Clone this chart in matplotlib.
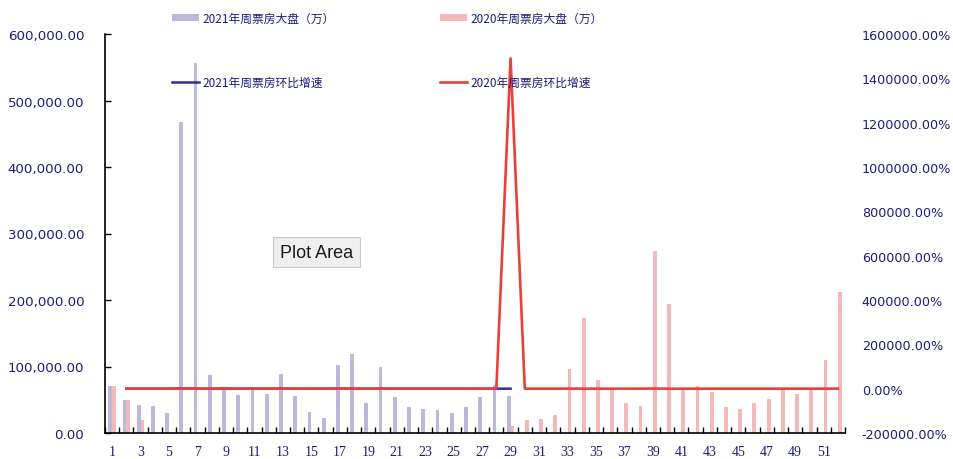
import numpy as np
import matplotlib
matplotlib.use("Agg")
import matplotlib.pyplot as plt
from matplotlib.patches import Patch
from matplotlib.lines import Line2D
from matplotlib.ticker import FuncFormatter, FixedLocator

nan = np.nan
weeks = list(range(1, 53))
tick_weeks = list(range(1, 53, 2))

box_2021 = [70200, 49600, 42100, 40100, 30000, 468000, 556000, 87700, 68700, 57100,
            67200, 58600, 89200, 55600, 31600, 22600, 102300, 118800, 45100, 99800,
            53600, 38600, 36100, 34100, 30100, 38600, 54600, 72200, 55600] + [nan] * 23

box_2020 = [70200, 49600, 19500] + [0] * 25 + [
            10500, 19500, 21600, 26600, 96200, 173000, 80200, 66500, 45100, 40100,
            273700, 194000, 66500, 70200, 61600, 38600, 36100, 45100, 51100, 66200,
            58600, 66200, 109800, 212500]

# week-over-week growth, in percent
growth_2021 = [nan, -29, -15, -5, -25, 1460, 19, -84, -22, -17,
               18, -13, 52, -38, -43, -29, 353, 16, -62, 121,
               -46, -28, -6, -6, -12, 28, 41, 32, -23] + [nan] * 23

growth_2020 = [nan, -29, -61, -100] + [0] * 24 + [
               1490000, 86, 11, 23, 262, 80, -54, -17, -32, -11,
               582, -29, -66, 6, -12, -37, -7, 25, 13, 30,
               -12, 13, 66, 94]

label_b21 = "2021年周票房大盘（万）"
label_b20 = "2020年周票房大盘（万）"
label_g21 = "2021年周票房环比增速"
label_g20 = "2020年周票房环比增速"

navy = "#1E1C7C"
c_b21 = "#BDB8DA"
c_b20 = "#F5B8B8"
c_g21 = "#2E2E8E"
c_g20 = "#E8413C"

plt.rcParams['font.family'] = ['Noto Sans CJK SC', 'DejaVu Sans']

fig = plt.figure(figsize=(9.54, 4.6), dpi=100)
W, H = 954, 460
left, right, top, bottom = 105, 845, 35, 434
ax = fig.add_axes([left / W, 1 - bottom / H, (right - left) / W, (bottom - top) / H])
ax2 = ax.twinx()

x = np.array(weeks, dtype=float)
bw = 0.27
ax.bar(x - bw / 2, box_2021, width=bw, color=c_b21, linewidth=0)
ax.bar(x + bw / 2, box_2020, width=bw, color=c_b20, linewidth=0)

ax2.plot(x, growth_2021, color=c_g21, lw=1.8, solid_joinstyle='round')
ax2.plot(x, growth_2020, color=c_g20, lw=1.9, solid_joinstyle='round')

ax.set_xlim(0.5, 52.5)
ax.set_ylim(0, 600000)
ax2.set_ylim(-200000, 1600000)

ax.set_yticks(np.arange(0, 600001, 100000))
ax.yaxis.set_major_formatter(FuncFormatter(lambda v, p: f"{v:,.2f}"))
ax2.set_yticks(np.arange(-200000, 1600001, 200000))
ax2.yaxis.set_major_formatter(FuncFormatter(lambda v, p: f"{v:.2f}%"))

ax.xaxis.set_major_locator(FixedLocator(tick_weeks))
ax.set_xticklabels([str(w) for w in tick_weeks])
ax.xaxis.set_minor_locator(FixedLocator(np.arange(0.5, 53, 1)))

for sp in ['top', 'right']:
    ax.spines[sp].set_visible(False)
for sp in ['top', 'right', 'left', 'bottom']:
    ax2.spines[sp].set_visible(False)
ax.spines['left'].set_linewidth(1.2)
ax.spines['bottom'].set_linewidth(1.2)

ax.tick_params(axis='y', direction='in', length=4, width=1, color='black', pad=15,
               labelsize=9.6, labelcolor=navy)
for t in ax.get_yticklabels():
    t.set_fontfamily('DejaVu Sans')
ax2.tick_params(axis='y', length=0, pad=12, labelsize=9.2, labelcolor=navy)
for t in ax2.get_yticklabels():
    t.set_fontfamily('DejaVu Sans')
ax.tick_params(axis='x', which='major', length=0, pad=9, labelsize=10, labelcolor=navy)
ax.tick_params(axis='x', which='minor', direction='in', length=4, width=1, color='black')
for t in ax.get_xticklabels():
    t.set_fontfamily(['Liberation Serif', 'DejaVu Serif'])

h1 = [Patch(facecolor=c_b21, edgecolor='none'), Line2D([], [], color=c_g21, lw=1.8)]
h2 = [Patch(facecolor=c_b20, edgecolor='none'), Line2D([], [], color=c_g20, lw=1.9)]
leg_kw = dict(loc='upper left', frameon=False, fontsize=8.5, labelcolor=navy,
              handlelength=2.3, handleheight=0.55, handletextpad=0.25,
              labelspacing=4.3, borderpad=0, borderaxespad=0)
fig.legend(h1, [label_b21, label_g21], bbox_to_anchor=(172 / W, 1 - 13 / H), **leg_kw)
fig.legend(h2, [label_b20, label_g20], bbox_to_anchor=(440 / W, 1 - 13 / H), **leg_kw)

fig.text(316.5 / W, 1 - 253 / H, "Plot Area", ha='center', va='center', fontsize=13,
         family='Liberation Sans', color='#1a1a1a',
         bbox=dict(boxstyle='square,pad=0.38', facecolor='#EFEFEF', edgecolor='#C9C9C9', lw=0.8))

fig.savefig("out.png", dpi=100)
